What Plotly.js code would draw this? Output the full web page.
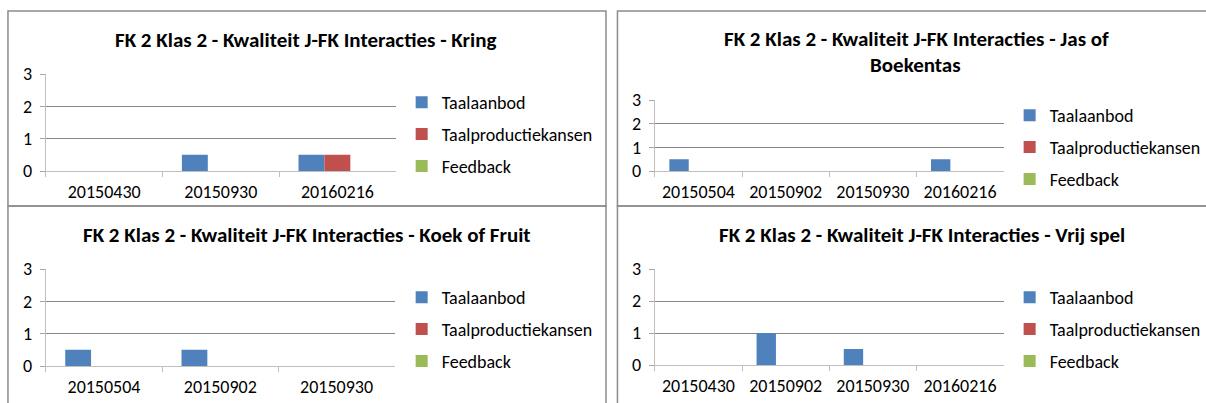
<!DOCTYPE html>
<html>
<head>
<meta charset="utf-8">
<script src="https://cdn.plot.ly/plotly-3.0.1.min.js"></script>
<style>html,body{margin:0;padding:0;background:#fff;}#chart{width:1206px;height:403px;}</style>
</head>
<body>
<div id="chart"></div>
<script>
// ---- data ----
const seriesNames = ['Taalaanbod', 'Taalproductiekansen', 'Feedback'];
const seriesColors = ['#4F81BD', '#C0504D', '#9BBB59'];

const titleKring = 'FK 2 Klas 2 - Kwaliteit J-FK Interacties - Kring';
const catsKring = ['20150430', '20150930', '20160216'];
const taalaanbodKring = [0, 0.5, 0.5];
const productieKring = [0, 0, 0.5];
const feedbackKring = [0, 0, 0];

const titleJasLine1 = 'FK 2 Klas 2 - Kwaliteit J-FK Interacties - Jas of';
const titleJasLine2 = 'Boekentas';
const catsJas = ['20150504', '20150902', '20150930', '20160216'];
const taalaanbodJas = [0.5, 0, 0, 0.5];
const productieJas = [0, 0, 0, 0];
const feedbackJas = [0, 0, 0, 0];

const titleKoek = 'FK 2 Klas 2 - Kwaliteit J-FK Interacties - Koek of Fruit';
const catsKoek = ['20150504', '20150902', '20150930'];
const taalaanbodKoek = [0.5, 0.5, 0];
const productieKoek = [0, 0, 0];
const feedbackKoek = [0, 0, 0];

const titleVrij = 'FK 2 Klas 2 - Kwaliteit J-FK Interacties - Vrij spel';
const catsVrij = ['20150430', '20150902', '20150930', '20160216'];
const taalaanbodVrij = [0, 1, 0.5, 0];
const productieVrij = [0, 0, 0, 0];
const feedbackVrij = [0, 0, 0, 0];

const yTickVals = [0, 1, 2, 3];

// ---- layout helpers ----
const W = 1206, H = 403;
const px = v => v / W;
const py = v => 1 - v / H;
const FONT = 'Carlito, Lato, sans-serif';

const panels = [
  {cats: catsKring, vals: [taalaanbodKring, productieKring, feedbackKring],
   xd: [46, 397], yd: [171, 74], leg: {x: 403, y: 84}},
  {cats: catsJas, vals: [taalaanbodJas, productieJas, feedbackJas],
   xd: [657, 1007], yd: [171, 100], leg: {x: 1013, y: 97}},
  {cats: catsKoek, vals: [taalaanbodKoek, productieKoek, feedbackKoek],
   xd: [46, 396], yd: [366, 269], leg: {x: 403, y: 279}},
  {cats: catsVrij, vals: [taalaanbodVrij, productieVrij, feedbackVrij],
   xd: [657, 1007], yd: [365, 269], leg: {x: 1013, y: 279}}
];

const data = [];
const layout = {
  width: W, height: H, autosize: false,
  margin: {l: 0, r: 0, t: 0, b: 0},
  paper_bgcolor: '#ffffff', plot_bgcolor: 'rgba(0,0,0,0)',
  barmode: 'group', bargap: 1/3, bargroupgap: 0,
  font: {family: FONT, size: 18, color: '#000'},
  annotations: [], shapes: []
};

panels.forEach((p, i) => {
  const k = i === 0 ? '' : String(i + 1);
  const legName = 'legend' + k;
  p.vals.forEach((v, s) => {
    data.push({
      type: 'bar', x: p.cats, y: v, name: seriesNames[s],
      marker: {color: seriesColors[s], line: {width: 0}},
      xaxis: 'x' + k, yaxis: 'y' + k,
      legend: legName, legendgroup: 'g' + i + '_' + s,
      hoverinfo: 'x+y+name'
    });
  });
  layout['xaxis' + k] = {
    domain: [px(p.xd[0]), px(p.xd[1])], anchor: 'y' + k,
    type: 'category', showgrid: false, zeroline: false,
    showline: true, linecolor: '#bfbfbf', linewidth: 1,
    ticks: 'outside', tickson: 'boundaries', ticklen: 5, tickcolor: '#bfbfbf',
    tickfont: {family: FONT, size: 18, color: '#000'}, ticklabelstandoff: 4,
    fixedrange: true
  };
  layout['yaxis' + k] = {
    domain: [py(p.yd[0]), py(p.yd[1])], anchor: 'x' + k,
    range: [0, 3], tickvals: yTickVals, ticktext: yTickVals.map(String),
    showgrid: true, gridcolor: '#868686', gridwidth: 1, zeroline: false,
    showline: true, linecolor: '#bfbfbf', linewidth: 1,
    ticks: 'outside', ticklen: 5, tickcolor: '#a6a6a6',
    tickfont: {family: FONT, size: 18, color: '#000'}, ticklabelstandoff: 4,
    fixedrange: true
  };
  layout[legName] = {
    x: px(p.leg.x), y: py(p.leg.y), xanchor: 'left', yanchor: 'top',
    bgcolor: 'rgba(0,0,0,0)', borderwidth: 0,
    font: {family: FONT, size: 18, color: '#000'},
    traceorder: 'grouped', tracegroupgap: 5.5, itemclick: false, itemdoubleclick: false
  };
});

// titles
const titleFont = {family: FONT, size: 21, color: '#000', weight: 'bold'};
function addTitle(text, cx, cy) {
  layout.annotations.push({
    text: '<b>' + text + '</b>', xref: 'paper', yref: 'paper',
    x: px(cx), y: py(cy), xanchor: 'center', yanchor: 'middle',
    showarrow: false, font: titleFont
  });
}
addTitle(titleKring, 307, 40);
addTitle(titleJasLine1, 920, 39);
addTitle(titleJasLine2, 919, 65);
addTitle(titleKoek, 308, 235);
addTitle(titleVrij, 925, 235);

// chart frames
const frames = [[8, 608, 11, 206], [619.5, 1215, 11, 206], [8, 608, 206, 410], [619.5, 1215, 206, 410]];
frames.forEach(f => {
  layout.shapes.push({
    type: 'rect', xref: 'paper', yref: 'paper',
    x0: px(f[0]), x1: px(f[1]), y0: py(f[3]), y1: py(f[2]),
    line: {color: '#8c8c8c', width: 1.5}, fillcolor: 'rgba(0,0,0,0)', layer: 'above'
  });
});

Plotly.newPlot('chart', data, layout, {staticPlot: true, displayModeBar: false});
</script>
</body>
</html>
